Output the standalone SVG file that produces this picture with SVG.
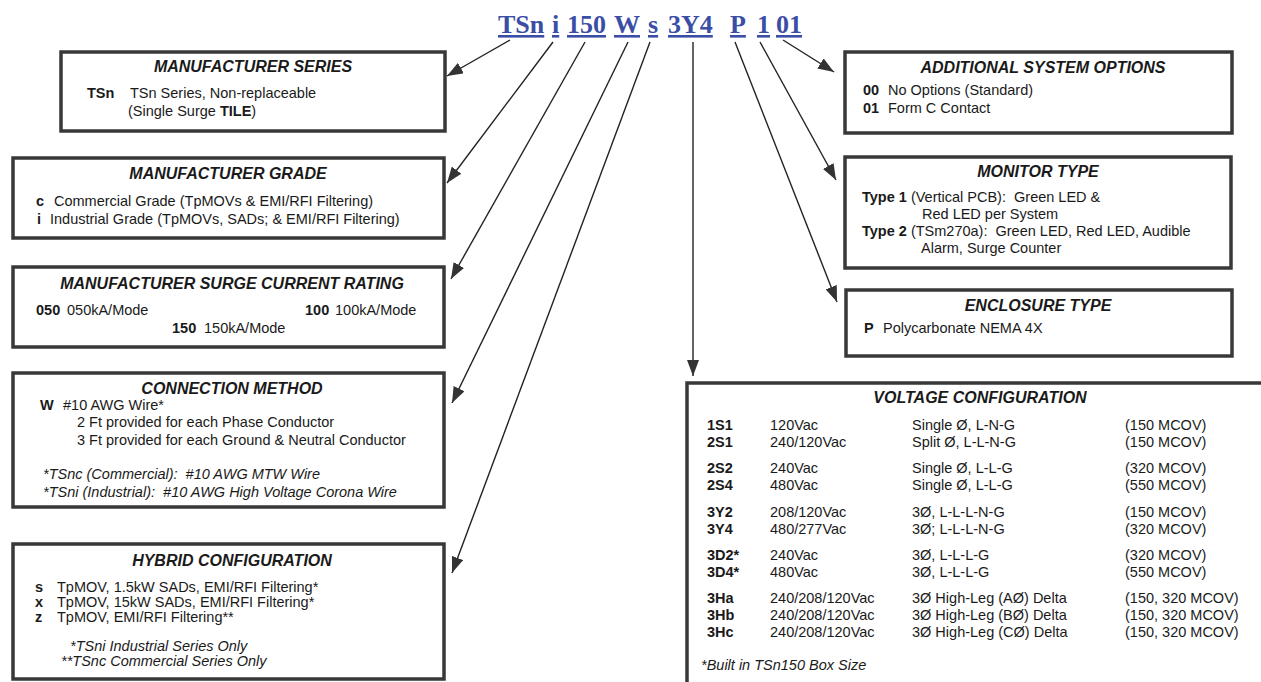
<svg xmlns="http://www.w3.org/2000/svg" width="1261" height="682" viewBox="0 0 1261 682" xml:space="preserve">
<style>
.bg{fill:#ffffff}
.box{fill:#ffffff;stroke:#383838;stroke-width:3.5}
.t{font-family:'Liberation Sans',Arial,sans-serif;font-size:14.5px;fill:#1a1a1a;white-space:pre}
.h{font-size:16px;font-weight:bold;font-style:italic;text-anchor:middle}
.b{font-weight:bold}
.i{font-style:italic}
.code{font-family:'Liberation Serif','Times New Roman',serif;font-weight:bold;font-size:26px;fill:#3b4ea6;text-decoration:underline}
.conn line{stroke:#222222;stroke-width:1.4;marker-end:url(#ah)}
</style>
<defs>
<marker id="ah" viewBox="0 0 16 12" refX="16" refY="6" markerWidth="16" markerHeight="12" markerUnits="userSpaceOnUse" orient="auto">
<path d="M0,0 L16,6 L0,12 Z" fill="#333333"/>
</marker>
</defs>
<rect class="bg" x="0" y="0" width="1261" height="682"/>
<g id="part-number">
<text class="code" x="498" y="33">TSn</text>
<text class="code" x="552" y="33">i</text>
<text class="code" x="567" y="33">150</text>
<text class="code" x="614" y="33">W</text>
<text class="code" x="648" y="33">s</text>
<text class="code" x="668" y="33">3Y4</text>
<text class="code" x="730" y="33">P</text>
<text class="code" x="757" y="33">1</text>
<text class="code" x="776" y="33">01</text>
</g>
<g id="connectors" class="conn">
<line x1="510" y1="40" x2="447" y2="76"/>
<line x1="553" y1="42" x2="447" y2="183"/>
<line x1="585" y1="42" x2="451" y2="279"/>
<line x1="628" y1="42" x2="452" y2="403"/>
<line x1="650" y1="42" x2="452" y2="573"/>
<line x1="693" y1="42" x2="693" y2="376"/>
<line x1="735" y1="42" x2="837" y2="302"/>
<line x1="760" y1="42" x2="836" y2="180"/>
<line x1="783" y1="40" x2="834" y2="72"/>
</g>
<g id="manufacturer-series">
<rect class="box" x="61" y="52" width="384" height="79"/>
<text class="t h" x="253" y="72">MANUFACTURER SERIES</text>
<text class="t b" x="87" y="98">TSn</text>
<text class="t" x="130" y="98">TSn Series, Non-replaceable</text>
<text class="t" x="128" y="116">(Single Surge <tspan class="b">TILE</tspan>)</text>
</g>
<g id="manufacturer-grade">
<rect class="box" x="13" y="158" width="431" height="80"/>
<text class="t h" x="228" y="179">MANUFACTURER GRADE</text>
<text class="t b" x="36" y="206">c</text>
<text class="t" x="54" y="206">Commercial Grade (TpMOVs &amp; EMI/RFI Filtering)</text>
<text class="t b" x="37" y="224">i</text>
<text class="t" x="50" y="224">Industrial Grade (TpMOVs, SADs; &amp; EMI/RFI Filtering)</text>
</g>
<g id="surge-current-rating">
<rect class="box" x="13" y="267" width="431" height="80"/>
<text class="t h" x="232" y="289">MANUFACTURER SURGE CURRENT RATING</text>
<text class="t b" x="36" y="315">050</text>
<text class="t" x="67" y="315">050kA/Mode</text>
<text class="t b" x="305" y="315">100</text>
<text class="t" x="335" y="315">100kA/Mode</text>
<text class="t b" x="172" y="333">150</text>
<text class="t" x="204" y="333">150kA/Mode</text>
</g>
<g id="connection-method">
<rect class="box" x="13" y="373" width="431" height="134"/>
<text class="t h" x="232" y="394">CONNECTION METHOD</text>
<text class="t b" x="40" y="410">W</text>
<text class="t" x="63" y="410">#10 AWG Wire*</text>
<text class="t" x="77" y="427">2 Ft provided for each Phase Conductor</text>
<text class="t" x="77" y="445">3 Ft provided for each Ground &amp; Neutral Conductor</text>
<text class="t i" x="43" y="479">*TSnc (Commercial):  #10 AWG MTW Wire</text>
<text class="t i" x="43" y="497">*TSni (Industrial):  #10 AWG High Voltage Corona Wire</text>
</g>
<g id="hybrid-configuration">
<rect class="box" x="13" y="544" width="431" height="135"/>
<text class="t h" x="232" y="566">HYBRID CONFIGURATION</text>
<text class="t b" x="35" y="592">s</text>
<text class="t" x="57" y="592">TpMOV, 1.5kW SADs, EMI/RFI Filtering*</text>
<text class="t b" x="35" y="607">x</text>
<text class="t" x="57" y="607">TpMOV, 15kW SADs, EMI/RFI Filtering*</text>
<text class="t b" x="35" y="622">z</text>
<text class="t" x="57" y="622">TpMOV, EMI/RFI Filtering**</text>
<text class="t i" x="70" y="651">*TSni Industrial Series Only</text>
<text class="t i" x="61" y="666">**TSnc Commercial Series Only</text>
</g>
<g id="additional-system-options">
<rect class="box" x="845" y="52" width="387" height="81"/>
<text class="t h" x="1043" y="73">ADDITIONAL SYSTEM OPTIONS</text>
<text class="t b" x="863" y="95">00</text>
<text class="t" x="888" y="95">No Options (Standard)</text>
<text class="t b" x="863" y="113">01</text>
<text class="t" x="888" y="113">Form C Contact</text>
</g>
<g id="monitor-type">
<rect class="box" x="845" y="157" width="386" height="111"/>
<text class="t h" x="1038" y="177">MONITOR TYPE</text>
<text class="t" x="862" y="202"><tspan class="b">Type 1</tspan> (Vertical PCB):  Green LED &amp;</text>
<text class="t" x="922" y="219">Red LED per System</text>
<text class="t" x="862" y="236"><tspan class="b">Type 2</tspan> (TSm270a):  Green LED, Red LED, Audible</text>
<text class="t" x="921" y="253">Alarm, Surge Counter</text>
</g>
<g id="enclosure-type">
<rect class="box" x="846" y="290" width="386" height="66"/>
<text class="t h" x="1038" y="311">ENCLOSURE TYPE</text>
<text class="t b" x="864" y="333">P</text>
<text class="t" x="883" y="333">Polycarbonate NEMA 4X</text>
</g>
<g id="voltage-configuration">
<rect class="box" x="687" y="383" width="600" height="320"/>
<text class="t h" x="980" y="403">VOLTAGE CONFIGURATION</text>
<g class="t">
<text class="b" x="707" y="430">1S1</text><text x="770" y="430">120Vac</text><text x="912" y="430">Single Ø,  L-N-G</text><text x="1125" y="430">(150 MCOV)</text>
<text class="b" x="707" y="447">2S1</text><text x="770" y="447">240/120Vac</text><text x="912" y="447">Split Ø,  L-L-N-G</text><text x="1125" y="447">(150 MCOV)</text>
<text class="b" x="707" y="473">2S2</text><text x="770" y="473">240Vac</text><text x="912" y="473">Single Ø,  L-L-G</text><text x="1125" y="473">(320 MCOV)</text>
<text class="b" x="707" y="490">2S4</text><text x="770" y="490">480Vac</text><text x="912" y="490">Single Ø,  L-L-G</text><text x="1125" y="490">(550 MCOV)</text>
<text class="b" x="707" y="517">3Y2</text><text x="770" y="517">208/120Vac</text><text x="912" y="517">3Ø,  L-L-L-N-G</text><text x="1125" y="517">(150 MCOV)</text>
<text class="b" x="707" y="534">3Y4</text><text x="770" y="534">480/277Vac</text><text x="912" y="534">3Ø;  L-L-L-N-G</text><text x="1125" y="534">(320 MCOV)</text>
<text class="b" x="707" y="560">3D2*</text><text x="770" y="560">240Vac</text><text x="912" y="560">3Ø,  L-L-L-G</text><text x="1125" y="560">(320 MCOV)</text>
<text class="b" x="707" y="577">3D4*</text><text x="770" y="577">480Vac</text><text x="912" y="577">3Ø,  L-L-L-G</text><text x="1125" y="577">(550 MCOV)</text>
<text class="b" x="707" y="603">3Ha</text><text x="770" y="603">240/208/120Vac</text><text x="912" y="603">3Ø High-Leg (AØ) Delta</text><text x="1125" y="603">(150, 320 MCOV)</text>
<text class="b" x="707" y="620">3Hb</text><text x="770" y="620">240/208/120Vac</text><text x="912" y="620">3Ø High-Leg (BØ) Delta</text><text x="1125" y="620">(150, 320 MCOV)</text>
<text class="b" x="707" y="637">3Hc</text><text x="770" y="637">240/208/120Vac</text><text x="912" y="637">3Ø High-Leg (CØ) Delta</text><text x="1125" y="637">(150, 320 MCOV)</text>
<text class="i" x="701" y="670">*Built in TSn150 Box Size</text>
</g>
</g>
</svg>
